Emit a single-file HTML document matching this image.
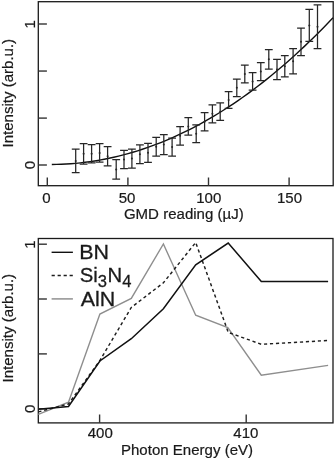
<!DOCTYPE html>
<html><head><meta charset="utf-8"><title>figure</title>
<style>
html,body{margin:0;padding:0;background:#fff;}
svg{display:block;font-family:"Liberation Sans", sans-serif;will-change:transform;filter:grayscale(1) blur(0.35px);}
</style></head><body>
<svg width="335" height="461" viewBox="0 0 335 461">
<rect width="335" height="461" fill="#fff"/>
<rect x="38.3" y="1.7" width="294.9" height="184.0" fill="none" stroke="#1a1a1a" stroke-width="1.3"/>
<line x1="47.30" y1="185.7" x2="47.30" y2="177.5" stroke="#333" stroke-width="1.4"/>
<text transform="translate(46.50,203.00) scale(1.045,1)" font-size="14.4" text-anchor="middle" fill="#1a1a1a" stroke="#1a1a1a" stroke-width="0.2" >0</text>
<line x1="127.90" y1="185.7" x2="127.90" y2="177.5" stroke="#333" stroke-width="1.4"/>
<text transform="translate(127.00,203.00) scale(1.045,1)" font-size="14.4" text-anchor="middle" fill="#1a1a1a" stroke="#1a1a1a" stroke-width="0.2" >50</text>
<line x1="208.50" y1="185.7" x2="208.50" y2="177.5" stroke="#333" stroke-width="1.4"/>
<text transform="translate(208.70,203.00) scale(1.045,1)" font-size="14.4" text-anchor="middle" fill="#1a1a1a" stroke="#1a1a1a" stroke-width="0.2" >100</text>
<line x1="289.10" y1="185.7" x2="289.10" y2="177.5" stroke="#333" stroke-width="1.4"/>
<text transform="translate(289.50,203.00) scale(1.045,1)" font-size="14.4" text-anchor="middle" fill="#1a1a1a" stroke="#1a1a1a" stroke-width="0.2" >150</text>
<line x1="38.3" y1="24.0" x2="46.9" y2="24.0" stroke="#333" stroke-width="1.4"/>
<line x1="38.3" y1="71.05" x2="46.9" y2="71.05" stroke="#333" stroke-width="1.4"/>
<line x1="38.3" y1="118.1" x2="46.9" y2="118.1" stroke="#333" stroke-width="1.4"/>
<line x1="38.3" y1="165.0" x2="46.9" y2="165.0" stroke="#333" stroke-width="1.4"/>
<text transform="translate(34.50,24.20) rotate(-90) scale(1.045,1)" font-size="14.4" text-anchor="middle" fill="#1a1a1a" stroke="#1a1a1a" stroke-width="0.2" >1</text>
<text transform="translate(34.50,165.10) rotate(-90) scale(1.045,1)" font-size="14.4" text-anchor="middle" fill="#1a1a1a" stroke="#1a1a1a" stroke-width="0.2" >0</text>
<text transform="translate(13.40,93.20) rotate(-90) scale(1.045,1)" font-size="14.4" text-anchor="middle" fill="#1a1a1a" stroke="#1a1a1a" stroke-width="0.2" >Intensity (arb.u.)</text>
<text transform="translate(183.80,218.80) scale(1.045,1)" font-size="14.4" text-anchor="middle" fill="#1a1a1a" stroke="#1a1a1a" stroke-width="0.2" >GMD reading (µJ)</text>
<path d="M51.80,164.49 L56.57,164.42 L61.33,164.27 L66.10,164.04 L70.86,163.72 L75.63,163.33 L80.40,162.85 L85.16,162.30 L89.93,161.66 L94.69,160.95 L99.46,160.15 L104.23,159.27 L108.99,158.30 L113.76,157.26 L118.53,156.13 L123.29,154.93 L128.06,153.64 L132.82,152.26 L137.59,150.81 L142.36,149.27 L147.12,147.65 L151.89,145.94 L156.65,144.15 L161.42,142.28 L166.19,140.32 L170.95,138.28 L175.72,136.16 L180.48,133.95 L185.25,131.66 L190.02,129.28 L194.78,126.82 L199.55,124.27 L204.32,121.64 L209.08,118.92 L213.85,116.12 L218.61,113.23 L223.38,110.25 L228.15,107.19 L232.91,104.05 L237.68,100.81 L242.44,97.49 L247.21,94.09 L251.98,90.59 L256.74,87.01 L261.51,83.34 L266.27,79.59 L271.04,75.75 L275.81,71.82 L280.57,67.80 L285.34,63.69 L290.11,59.50 L294.87,55.21 L299.64,50.84 L304.40,46.38 L309.17,41.83 L313.94,37.19 L318.70,32.47 L323.47,27.65 L328.23,22.74 L333.00,17.75" fill="none" stroke="#111" stroke-width="1.4"/>
<path d="M71.80,149.20H79.60M71.80,172.60H79.60M75.70,149.20V172.60" fill="none" stroke="#262626" stroke-width="1.25"/>
<circle cx="75.70" cy="160.90" r="1.0" fill="#262626"/>
<path d="M79.70,143.60H87.50M79.70,164.00H87.50M83.60,143.60V164.00" fill="none" stroke="#262626" stroke-width="1.25"/>
<circle cx="83.60" cy="153.80" r="1.0" fill="#262626"/>
<path d="M87.70,144.70H95.50M87.70,162.80H95.50M91.60,144.70V162.80" fill="none" stroke="#262626" stroke-width="1.25"/>
<circle cx="91.60" cy="153.75" r="1.0" fill="#262626"/>
<path d="M95.70,143.60H103.50M95.70,162.20H103.50M99.60,143.60V162.20" fill="none" stroke="#262626" stroke-width="1.25"/>
<circle cx="99.60" cy="152.90" r="1.0" fill="#262626"/>
<path d="M103.70,146.70H111.50M103.70,165.80H111.50M107.60,146.70V165.80" fill="none" stroke="#262626" stroke-width="1.25"/>
<circle cx="107.60" cy="156.25" r="1.0" fill="#262626"/>
<path d="M112.30,159.70H120.10M112.30,179.10H120.10M116.20,159.70V179.10" fill="none" stroke="#262626" stroke-width="1.25"/>
<circle cx="116.20" cy="169.40" r="1.0" fill="#262626"/>
<path d="M120.10,150.40H127.90M120.10,168.60H127.90M124.00,150.40V168.60" fill="none" stroke="#262626" stroke-width="1.25"/>
<circle cx="124.00" cy="159.50" r="1.0" fill="#262626"/>
<path d="M128.00,149.00H135.80M128.00,168.20H135.80M131.90,149.00V168.20" fill="none" stroke="#262626" stroke-width="1.25"/>
<circle cx="131.90" cy="158.60" r="1.0" fill="#262626"/>
<path d="M136.00,144.90H143.80M136.00,163.70H143.80M139.90,144.90V163.70" fill="none" stroke="#262626" stroke-width="1.25"/>
<circle cx="139.90" cy="154.30" r="1.0" fill="#262626"/>
<path d="M144.10,143.30H151.90M144.10,162.30H151.90M148.00,143.30V162.30" fill="none" stroke="#262626" stroke-width="1.25"/>
<circle cx="148.00" cy="152.80" r="1.0" fill="#262626"/>
<path d="M152.30,137.40H160.10M152.30,156.00H160.10M156.20,137.40V156.00" fill="none" stroke="#262626" stroke-width="1.25"/>
<circle cx="156.20" cy="146.70" r="1.0" fill="#262626"/>
<path d="M159.90,134.50H167.70M159.90,154.50H167.70M163.80,134.50V154.50" fill="none" stroke="#262626" stroke-width="1.25"/>
<circle cx="163.80" cy="144.50" r="1.0" fill="#262626"/>
<path d="M168.20,138.00H176.00M168.20,156.00H176.00M172.10,138.00V156.00" fill="none" stroke="#262626" stroke-width="1.25"/>
<circle cx="172.10" cy="147.00" r="1.0" fill="#262626"/>
<path d="M176.20,126.60H184.00M176.20,145.10H184.00M180.10,126.60V145.10" fill="none" stroke="#262626" stroke-width="1.25"/>
<circle cx="180.10" cy="135.85" r="1.0" fill="#262626"/>
<path d="M184.40,117.60H192.20M184.40,135.20H192.20M188.30,117.60V135.20" fill="none" stroke="#262626" stroke-width="1.25"/>
<circle cx="188.30" cy="126.40" r="1.0" fill="#262626"/>
<path d="M192.30,124.80H200.10M192.30,142.50H200.10M196.20,124.80V142.50" fill="none" stroke="#262626" stroke-width="1.25"/>
<circle cx="196.20" cy="133.65" r="1.0" fill="#262626"/>
<path d="M200.70,112.60H208.50M200.70,130.90H208.50M204.60,112.60V130.90" fill="none" stroke="#262626" stroke-width="1.25"/>
<circle cx="204.60" cy="121.75" r="1.0" fill="#262626"/>
<path d="M208.50,104.80H216.30M208.50,122.80H216.30M212.40,104.80V122.80" fill="none" stroke="#262626" stroke-width="1.25"/>
<circle cx="212.40" cy="113.80" r="1.0" fill="#262626"/>
<path d="M216.30,102.90H224.10M216.30,120.40H224.10M220.20,102.90V120.40" fill="none" stroke="#262626" stroke-width="1.25"/>
<circle cx="220.20" cy="111.65" r="1.0" fill="#262626"/>
<path d="M224.70,91.70H232.50M224.70,108.40H232.50M228.60,91.70V108.40" fill="none" stroke="#262626" stroke-width="1.25"/>
<circle cx="228.60" cy="100.05" r="1.0" fill="#262626"/>
<path d="M232.90,79.00H240.70M232.90,96.70H240.70M236.80,79.00V96.70" fill="none" stroke="#262626" stroke-width="1.25"/>
<circle cx="236.80" cy="87.85" r="1.0" fill="#262626"/>
<path d="M240.90,65.00H248.70M240.90,82.80H248.70M244.80,65.00V82.80" fill="none" stroke="#262626" stroke-width="1.25"/>
<circle cx="244.80" cy="73.90" r="1.0" fill="#262626"/>
<path d="M248.70,72.60H256.50M248.70,90.20H256.50M252.60,72.60V90.20" fill="none" stroke="#262626" stroke-width="1.25"/>
<circle cx="252.60" cy="81.40" r="1.0" fill="#262626"/>
<path d="M256.90,62.50H264.70M256.90,80.50H264.70M260.80,62.50V80.50" fill="none" stroke="#262626" stroke-width="1.25"/>
<circle cx="260.80" cy="71.50" r="1.0" fill="#262626"/>
<path d="M264.90,49.60H272.70M264.90,69.00H272.70M268.80,49.60V69.00" fill="none" stroke="#262626" stroke-width="1.25"/>
<circle cx="268.80" cy="59.30" r="1.0" fill="#262626"/>
<path d="M273.10,59.30H280.90M273.10,79.50H280.90M277.00,59.30V79.50" fill="none" stroke="#262626" stroke-width="1.25"/>
<circle cx="277.00" cy="69.40" r="1.0" fill="#262626"/>
<path d="M280.90,55.50H288.70M280.90,76.80H288.70M284.80,55.50V76.80" fill="none" stroke="#262626" stroke-width="1.25"/>
<circle cx="284.80" cy="66.15" r="1.0" fill="#262626"/>
<path d="M289.20,48.60H297.00M289.20,73.90H297.00M293.10,48.60V73.90" fill="none" stroke="#262626" stroke-width="1.25"/>
<circle cx="293.10" cy="61.25" r="1.0" fill="#262626"/>
<path d="M297.10,28.00H304.90M297.10,55.50H304.90M301.00,28.00V55.50" fill="none" stroke="#262626" stroke-width="1.25"/>
<circle cx="301.00" cy="41.75" r="1.0" fill="#262626"/>
<path d="M305.40,9.40H313.20M305.40,41.40H313.20M309.30,9.40V41.40" fill="none" stroke="#262626" stroke-width="1.25"/>
<circle cx="309.30" cy="25.40" r="1.0" fill="#262626"/>
<path d="M313.60,4.90H321.40M313.60,48.60H321.40M317.50,4.90V48.60" fill="none" stroke="#262626" stroke-width="1.25"/>
<circle cx="317.50" cy="26.75" r="1.0" fill="#262626"/>
<rect x="38.3" y="238.5" width="294.7" height="184.39999999999998" fill="none" stroke="#1a1a1a" stroke-width="1.3"/>
<line x1="99.6" y1="422.9" x2="99.6" y2="414.5" stroke="#333" stroke-width="1.4"/>
<text transform="translate(100.20,437.50) scale(1.045,1)" font-size="14.4" text-anchor="middle" fill="#1a1a1a" stroke="#1a1a1a" stroke-width="0.2" >400</text>
<line x1="246.2" y1="422.9" x2="246.2" y2="414.5" stroke="#333" stroke-width="1.4"/>
<text transform="translate(245.90,437.50) scale(1.045,1)" font-size="14.4" text-anchor="middle" fill="#1a1a1a" stroke="#1a1a1a" stroke-width="0.2" >410</text>
<line x1="38.3" y1="244.2" x2="46.9" y2="244.2" stroke="#333" stroke-width="1.4"/>
<line x1="38.3" y1="299.0" x2="46.9" y2="299.0" stroke="#333" stroke-width="1.4"/>
<line x1="38.3" y1="353.9" x2="46.9" y2="353.9" stroke="#333" stroke-width="1.4"/>
<line x1="38.3" y1="408.8" x2="46.9" y2="408.8" stroke="#333" stroke-width="1.4"/>
<text transform="translate(34.50,244.50) rotate(-90) scale(1.045,1)" font-size="14.4" text-anchor="middle" fill="#1a1a1a" stroke="#1a1a1a" stroke-width="0.2" >1</text>
<text transform="translate(34.50,408.90) rotate(-90) scale(1.045,1)" font-size="14.4" text-anchor="middle" fill="#1a1a1a" stroke="#1a1a1a" stroke-width="0.2" >0</text>
<text transform="translate(13.40,328.20) rotate(-90) scale(1.045,1)" font-size="14.4" text-anchor="middle" fill="#1a1a1a" stroke="#1a1a1a" stroke-width="0.2" >Intensity (arb.u.)</text>
<text transform="translate(187.00,454.50) scale(1.045,1)" font-size="14.4" text-anchor="middle" fill="#1a1a1a" stroke="#1a1a1a" stroke-width="0.2" >Photon Energy (eV)</text>
<path d="M38.30,414.30 L68.50,402.20 L99.90,314.00 L131.30,298.40 L163.40,244.00 L195.70,315.20 L227.80,327.70 L261.30,375.20 L328.10,365.40" fill="none" stroke="#8e8e8e" stroke-width="1.4" stroke-linejoin="miter" />
<path d="M38.30,411.90 L68.50,404.00 L99.90,360.50 L131.30,307.40 L163.40,282.80 L195.70,242.50 L228.30,332.40 L261.30,344.30 L328.10,340.50" fill="none" stroke="#1e1e1e" stroke-width="1.45" stroke-linejoin="miter" stroke-dasharray="3.2 2.8"/>
<path d="M38.30,409.30 L68.50,406.50 L99.90,361.00 L131.30,338.70 L163.40,308.80 L195.70,264.90 L228.20,243.10 L261.30,281.40 L328.10,281.40" fill="none" stroke="#111" stroke-width="1.5" stroke-linejoin="miter" />
<line x1="51.6" y1="252.3" x2="72.9" y2="252.3" stroke="#111" stroke-width="1.4"/>
<line x1="51.6" y1="275.4" x2="72.9" y2="275.4" stroke="#1e1e1e" stroke-width="1.45" stroke-dasharray="3.2 2.8"/>
<line x1="51.6" y1="298.9" x2="72.9" y2="298.9" stroke="#909090" stroke-width="1.5"/>
<text transform="translate(79.20,259.00) scale(1.03,1)" font-size="20.8" text-anchor="start" fill="#1a1a1a" stroke="#1a1a1a" stroke-width="0.3" >BN</text>
<text transform="translate(79.70,281.50) scale(0.975,1)" font-size="20.8" text-anchor="start" fill="#1a1a1a" stroke="#1a1a1a" stroke-width="0.3" >Si<tspan font-size="17" dy="5.1">3</tspan><tspan dy="-5.1" dx="0.7">N</tspan><tspan font-size="17" dy="5.1">4</tspan></text>
<text transform="translate(80.80,305.60) scale(1.03,1)" font-size="20.8" text-anchor="start" fill="#1a1a1a" stroke="#1a1a1a" stroke-width="0.3" >AlN</text>
</svg>
</body></html>
